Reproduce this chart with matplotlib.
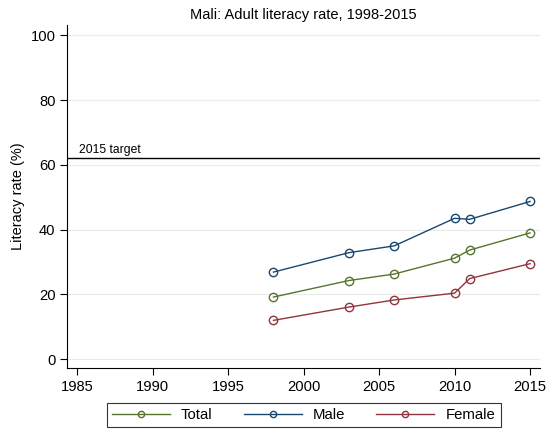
import matplotlib
matplotlib.use("Agg")
import matplotlib.pyplot as plt

plt.rcParams["font.family"] = ["Liberation Sans", "DejaVu Sans"]

years = [1998, 2003, 2006, 2010, 2011, 2015]
total = [19.2, 24.3, 26.3, 31.2, 33.7, 39.0]
male = [26.9, 32.9, 35.0, 43.5, 43.2, 48.7]
female = [12.0, 16.1, 18.3, 20.4, 24.9, 29.5]
target = 62.1
x_ticks = [1985, 1990, 1995, 2000, 2005, 2010, 2015]
y_ticks = [0, 20, 40, 60, 80, 100]

GREEN = "#55752f"
NAVY = "#1a476f"
MAROON = "#90353b"

fig = plt.figure(figsize=(5.49, 4.33), dpi=100)
ax = fig.add_axes([0.1226, 0.1494, 0.861, 0.793])

for y in y_ticks:
    ax.axhline(y, color="#eaeaea", lw=0.8, zorder=0)
ax.axhline(target, color="black", lw=1.0, zorder=1)
ax.text(1985.1, target + 0.5, "2015 target", fontsize=8.7, va="bottom", ha="left")

mk = dict(marker="o", markersize=6, markerfacecolor="none", markeredgewidth=1.0, lw=1.0)
ax.plot(years, total, color=GREEN, label="Total", **mk)
ax.plot(years, male, color=NAVY, label="Male", **mk)
ax.plot(years, female, color=MAROON, label="Female", **mk)

ax.set_xlim(1984.34, 2015.66)
ax.set_ylim(-2.8, 103.2)
ax.set_xticks(x_ticks)
ax.set_yticks(y_ticks)
ax.tick_params(labelsize=10.6, direction="out", length=5, width=0.8)
ax.spines["top"].set_visible(False)
ax.spines["right"].set_visible(False)
ax.set_ylabel("Literacy rate (%)", fontsize=10.5)
ax.set_title("Mali: Adult literacy rate, 1998-2015", fontsize=10.5, pad=4)

leg = fig.legend(loc="upper center", bbox_to_anchor=(0.553, 0.07), ncol=3,
                 fontsize=10.7, frameon=True, fancybox=False, edgecolor="black",
                 handlelength=3.9, handletextpad=0.75, columnspacing=2.1,
                 markerscale=0.75, borderpad=0.35, borderaxespad=0)
leg.get_frame().set_linewidth(0.8)

fig.savefig("out.png", dpi=100, facecolor="white")
